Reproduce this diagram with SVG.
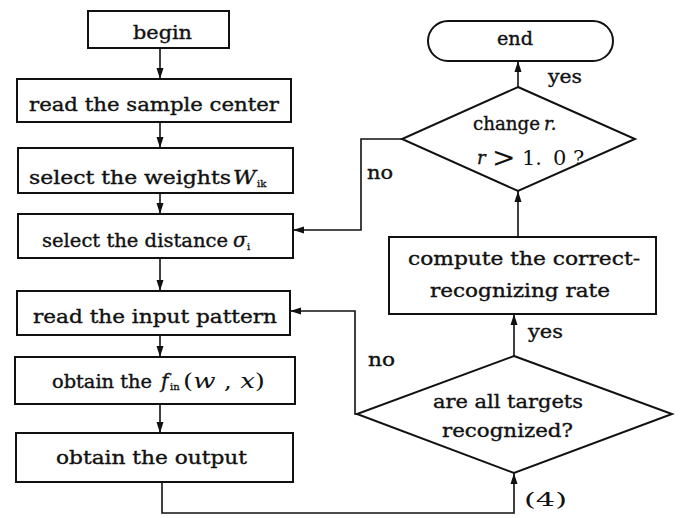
<svg xmlns="http://www.w3.org/2000/svg" width="680" height="518" viewBox="0 0 680 518">
<style>
.b{fill:#fff;stroke:#111;stroke-width:2}
.t{font-family:"DejaVu Serif","Liberation Serif",serif;font-size:18px;fill:#111;stroke:#111;stroke-width:0.35}
.i{font-style:italic}
.s{font-size:10px;stroke-width:0.3}
.c{fill:none;stroke:#111;stroke-width:1.6}
.n{stroke:none}
</style>
<defs>
<marker id="a" markerUnits="userSpaceOnUse" markerWidth="12" markerHeight="8" refX="11" refY="4" orient="auto">
<path d="M0,0.5 L11,4 L0,7.5 z" fill="#111"/>
</marker>
</defs>
<rect width="680" height="518" fill="#fff"/>
<g id="connectors">
<line class="c" x1="160" y1="48" x2="160" y2="79" marker-end="url(#a)"/>
<line class="c" x1="160" y1="122" x2="160" y2="148" marker-end="url(#a)"/>
<line class="c" x1="160" y1="193" x2="160" y2="214" marker-end="url(#a)"/>
<line class="c" x1="160" y1="258" x2="160" y2="291" marker-end="url(#a)"/>
<line class="c" x1="160" y1="335" x2="160" y2="357" marker-end="url(#a)"/>
<line class="c" x1="160" y1="404" x2="160" y2="433" marker-end="url(#a)"/>
<polyline class="c" points="162,482 162,513 514,513 514,473" marker-end="url(#a)"/>
<line class="c" x1="514" y1="356" x2="514" y2="314" marker-end="url(#a)"/>
<line class="c" x1="518" y1="237" x2="518" y2="191" marker-end="url(#a)"/>
<line class="c" x1="518" y1="87" x2="518" y2="61" marker-end="url(#a)"/>
<polyline class="c" points="402,139 361,139 361,230 293,230" marker-end="url(#a)"/>
<polyline class="c" points="357,414 355,414 355,311 290,311" marker-end="url(#a)"/>
<text class="t" x="548" y="83" textLength="34" lengthAdjust="spacingAndGlyphs">yes</text>
<text class="t" x="528" y="338" textLength="35" lengthAdjust="spacingAndGlyphs">yes</text>
<text class="t" x="367" y="179" textLength="26" lengthAdjust="spacingAndGlyphs">no</text>
<text class="t" x="368" y="366" textLength="27" lengthAdjust="spacingAndGlyphs">no</text>
<text class="t n" x="524" y="506" textLength="43" lengthAdjust="spacingAndGlyphs">(4)</text>
</g>
<g id="begin">
<rect class="b" x="88" y="11" width="141" height="37"/>
<text class="t" x="133" y="39" textLength="59" lengthAdjust="spacingAndGlyphs">begin</text>
</g>
<g id="read-sample">
<rect class="b" x="17" y="79" width="274" height="43"/>
<text class="t" x="29" y="111" textLength="250" lengthAdjust="spacingAndGlyphs">read the sample center</text>
</g>
<g id="select-weights">
<rect class="b" x="18" y="148" width="275" height="45"/>
<text class="t" x="29" y="184" textLength="202" lengthAdjust="spacingAndGlyphs">select the weights</text>
<text class="t i" x="233" y="184" textLength="23" lengthAdjust="spacingAndGlyphs">W</text>
<text class="t s" x="257" y="187">ik</text>
</g>
<g id="select-distance">
<rect class="b" x="18" y="214" width="275" height="44"/>
<text class="t" x="42" y="247" textLength="186" lengthAdjust="spacingAndGlyphs">select the distance</text>
<text class="t i" x="233" y="247" style="font-size:20px">σ</text>
<text class="t s" x="247" y="250">i</text>
</g>
<g id="read-input">
<rect class="b" x="17" y="291" width="273" height="44"/>
<text class="t" x="33" y="323" textLength="244" lengthAdjust="spacingAndGlyphs">read the input pattern</text>
</g>
<g id="obtain-f">
<rect class="b" x="15" y="357" width="280" height="47"/>
<text class="t" x="52" y="388" textLength="100" lengthAdjust="spacingAndGlyphs">obtain the</text>
<text class="t i" x="161" y="388" style="font-size:20px">f</text>
<text class="t s" x="170" y="390">in</text>
<text class="t n" x="183" y="388" textLength="82" lengthAdjust="spacingAndGlyphs" style="font-size:20px">(<tspan class="i">w</tspan> , <tspan class="i">x</tspan>)</text>
</g>
<g id="obtain-output">
<rect class="b" x="16" y="433" width="277" height="49"/>
<text class="t" x="56" y="464" textLength="191" lengthAdjust="spacingAndGlyphs">obtain the output</text>
</g>
<g id="end">
<rect class="b" x="428" y="21" width="185" height="40" rx="20"/>
<text class="t" x="497" y="45" textLength="36" lengthAdjust="spacingAndGlyphs">end</text>
</g>
<g id="decision-r">
<polygon class="b" points="518,87 635,139 518,191 402,139"/>
<text class="t" x="473" y="130" textLength="67" lengthAdjust="spacingAndGlyphs">change</text>
<text class="t i" x="544" y="130">r.</text>
<text class="t i" x="477" y="164">r</text>
<text class="t n" x="492" y="167" style="font-size:28px">&gt;</text>
<text class="t n" x="522" y="165" style="font-size:21px">1.</text>
<text class="t n" x="553" y="165" style="font-size:21px">0</text>
<text class="t n" x="573" y="165" style="font-size:21px">?</text>
</g>
<g id="compute">
<rect class="b" x="389" y="237" width="267" height="77"/>
<text class="t" x="408" y="265" textLength="232" lengthAdjust="spacingAndGlyphs">compute the correct-</text>
<text class="t" x="430" y="297" textLength="180" lengthAdjust="spacingAndGlyphs">recognizing rate</text>
</g>
<g id="decision-targets">
<polygon class="b" points="514,356 672,414 514,473 357,414"/>
<text class="t" x="433" y="408" textLength="150" lengthAdjust="spacingAndGlyphs">are all targets</text>
<text class="t" x="442" y="437" textLength="131" lengthAdjust="spacingAndGlyphs">recognized?</text>
</g>
</svg>
